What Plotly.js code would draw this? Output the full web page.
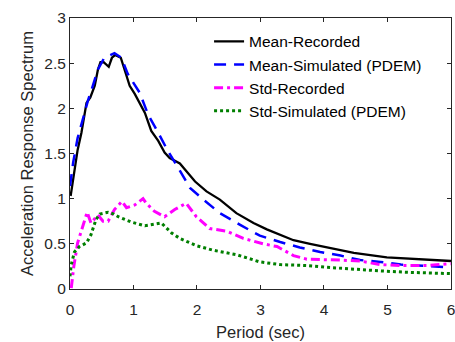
<!DOCTYPE html>
<html>
<head>
<meta charset="utf-8">
<script src="https://cdn.plot.ly/plotly-3.0.1.min.js"></script>
<style>html,body{margin:0;padding:0;background:#fff;}#chart{width:455px;height:342px;}</style>
</head>
<body>
<div id="chart"></div>
<script>
// Mean-Recorded
const meanRecX = [0.01,0.07,0.12,0.18,0.26,0.32,0.39,0.44,0.48,0.53,0.61,0.66,0.71,0.80,0.86,0.94,1.02,1.18,1.28,1.39,1.49,1.57,1.73,1.97,2.15,2.36,2.62,2.89,3.10,3.31,3.52,3.78,4.20,4.47,4.99,5.52,6.0];
const meanRecY = [1.03,1.29,1.54,1.73,2.06,2.12,2.25,2.43,2.51,2.51,2.46,2.56,2.59,2.56,2.43,2.25,2.16,1.95,1.75,1.64,1.51,1.45,1.39,1.19,1.08,0.99,0.84,0.73,0.66,0.60,0.54,0.50,0.44,0.40,0.35,0.33,0.31];
// Mean-Simulated (PDEM)
const meanSimX = [0,0.05,0.12,0.2,0.28,0.36,0.44,0.54,0.70,0.81,0.91,1.10,1.23,1.39,1.54,1.73,1.89,2.10,2.36,2.68,2.99,3.31,3.62,3.94,4.26,4.57,4.89,5.21,5.52,6.0];
const meanSimY = [1.14,1.40,1.67,1.88,2.08,2.25,2.43,2.56,2.61,2.56,2.38,2.17,1.93,1.73,1.53,1.31,1.12,0.99,0.84,0.71,0.59,0.52,0.46,0.41,0.37,0.32,0.30,0.27,0.26,0.24];
// Std-Recorded
const stdRecX = [0.02,0.06,0.12,0.2,0.27,0.33,0.44,0.52,0.60,0.70,0.82,0.89,1.02,1.15,1.20,1.33,1.49,1.65,1.83,1.99,2.20,2.47,2.73,3.04,3.26,3.52,3.73,4.26,4.57,4.89,5.21,5.63,6.0];
const stdRecY = [0.01,0.25,0.51,0.69,0.85,0.73,0.82,0.75,0.75,0.88,0.97,0.90,0.93,1.00,0.95,0.86,0.80,0.88,0.95,0.80,0.67,0.64,0.56,0.50,0.47,0.37,0.33,0.32,0.31,0.27,0.26,0.26,0.28];
// Std-Simulated (PDEM)
const stdSimX = [0,0.02,0.07,0.15,0.26,0.33,0.41,0.47,0.60,0.69,0.76,0.97,1.18,1.28,1.44,1.60,1.73,1.99,2.25,2.62,2.99,3.31,3.73,4.05,4.41,4.89,5.31,6.0];
const stdSimY = [0.14,0.27,0.41,0.47,0.51,0.60,0.77,0.83,0.85,0.83,0.80,0.74,0.70,0.71,0.73,0.62,0.56,0.48,0.43,0.38,0.30,0.27,0.26,0.24,0.22,0.20,0.185,0.17];

const seriesNames = ["Mean-Recorded","Mean-Simulated (PDEM)","Std-Recorded","Std-Simulated (PDEM)"];
const xTickVals = [0,1,2,3,4,5,6];
const xTickText = ["0","1","2","3","4","5","6"];
const yTickVals = [0,0.5,1,1.5,2,2.5,3];
const yTickText = ["0","0.5","1","1.5","2","2.5","3"];

const FONT = "Arial, 'Liberation Sans', sans-serif";
const TXT = "#262626";

const traces = [
  {x: meanRecX, y: meanRecY, name: seriesNames[0], mode: "lines", line: {color: "#000000", width: 2.3}},
  {x: meanSimX, y: meanSimY, name: seriesNames[1], mode: "lines", line: {color: "#0000ff", width: 2.5, dash: "12px,8px"}},
  {x: stdRecX, y: stdRecY, name: seriesNames[2], mode: "lines", line: {color: "#ff00ff", width: 3, dash: "9px,4px,3px,4px"}},
  {x: stdSimX, y: stdSimY, name: seriesNames[3], mode: "lines", line: {color: "#007f00", width: 3, dash: "3px,3px"}}
];

const axisCommon = {
  showgrid: false, zeroline: false, showline: true, linecolor: TXT, linewidth: 1,
  ticks: "inside", ticklen: 4, tickwidth: 1, tickcolor: TXT, mirror: "ticks",
  tickfont: {family: FONT, size: 15.5, color: TXT}, ticklabeloverflow: "allow", automargin: false
};

const layout = {
  width: 455, height: 342,
  margin: {l: 70, r: 4, t: 18, b: 53},
  paper_bgcolor: "#fff", plot_bgcolor: "#fff",
  font: {family: FONT, color: TXT},
  showlegend: true,
  legend: {x: 0.365, y: 0.975, xanchor: "left", yanchor: "top", bgcolor: "rgba(0,0,0,0)",
           borderwidth: 0, font: {family: FONT, size: 15.5, color: "#000"}, tracegroupgap: 0},
  xaxis: Object.assign({}, axisCommon, {range: [0, 6.0005], tickvals: xTickVals, ticktext: xTickText,
          ticklabelstandoff: 6,
          title: {text: "Period (sec)", font: {family: FONT, size: 16.5, color: TXT}, standoff: 9}}),
  yaxis: Object.assign({}, axisCommon, {range: [0, 3], tickvals: yTickVals, ticktext: yTickText,
          title: {text: "Acceleration Response Spectrum", font: {family: FONT, size: 16.5, color: TXT}, standoff: 6}})
};

Plotly.newPlot("chart", traces, layout, {staticPlot: true, displayModeBar: false});
</script>
</body>
</html>
